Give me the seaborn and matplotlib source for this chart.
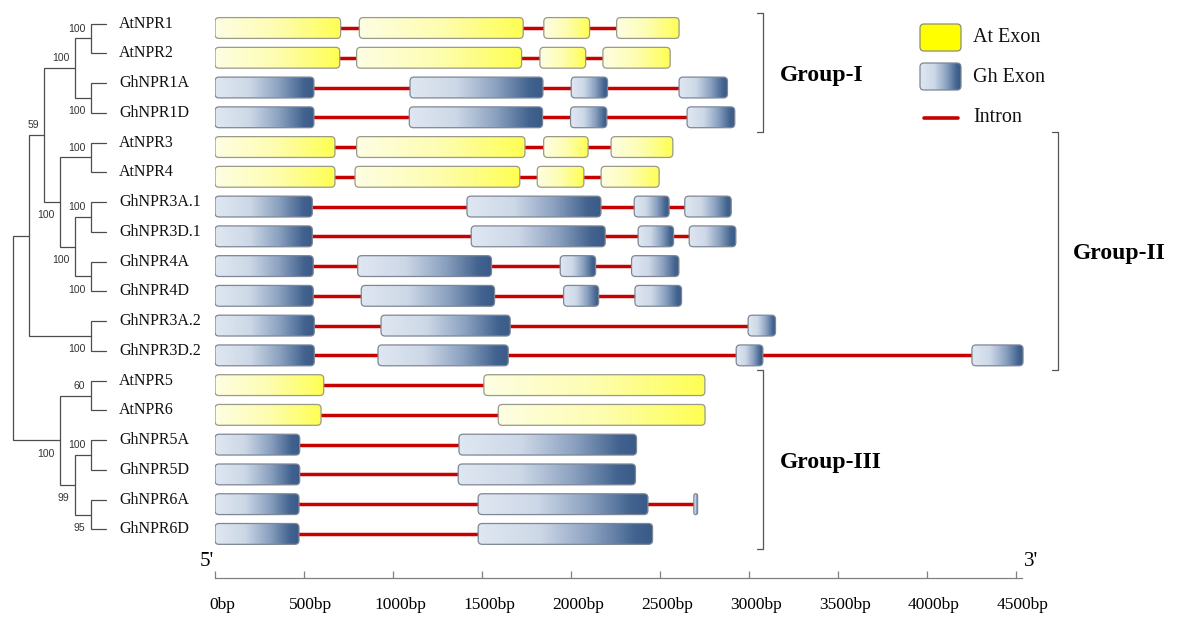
import numpy as np
import pandas as pd
import matplotlib
matplotlib.use("Agg")
import matplotlib.pyplot as plt
import matplotlib.transforms as mtransforms
import seaborn as sns
from matplotlib.patches import FancyBboxPatch
from matplotlib.colors import LinearSegmentedColormap

# Genes, top to bottom
genes = ["AtNPR1", "AtNPR2", "GhNPR1A", "GhNPR1D", "AtNPR3", "AtNPR4",
         "GhNPR3A.1", "GhNPR3D.1", "GhNPR4A", "GhNPR4D", "GhNPR3A.2", "GhNPR3D.2",
         "AtNPR5", "AtNPR6", "GhNPR5A", "GhNPR5D", "GhNPR6A", "GhNPR6D"]

# exon coordinates (bp)
exon_starts = [
    [0, 811, 1848, 2257],
    [0, 796, 1826, 2180],
    [0, 1096, 2002, 2608],
    [0, 1092, 1998, 2653],
    [0, 796, 1847, 2226],
    [0, 787, 1811, 2170],
    [0, 1416, 2356, 2640],
    [0, 1440, 2378, 2665],
    [0, 802, 1940, 2341],
    [0, 822, 1959, 2360],
    [0, 933, 2996],
    [0, 916, 2929, 4254],
    [0, 1511],
    [0, 1592],
    [0, 1371],
    [0, 1367],
    [0, 1479, 2691],
    [0, 1479],
]
exon_ends = [
    [706, 1732, 2105, 2608],
    [701, 1723, 2083, 2558],
    [556, 1843, 2206, 2880],
    [556, 1841, 2202, 2921],
    [674, 1742, 2097, 2573],
    [674, 1713, 2073, 2496],
    [547, 2169, 2552, 2901],
    [547, 2193, 2577, 2927],
    [552, 1554, 2139, 2607],
    [552, 1571, 2156, 2622],
    [558, 1659, 3150],
    [558, 1648, 3079, 4541],
    [611, 2753],
    [596, 2754],
    [476, 2369],
    [476, 2363],
    [472, 2433, 2712],
    [472, 2459],
]

tick_values = [0, 500, 1000, 1500, 2000, 2500, 3000, 3500, 4000, 4500]
tick_labels = ["0bp", "500bp", "1000bp", "1500bp", "2000bp", "2500bp",
               "3000bp", "3500bp", "4000bp", "4500bp"]

# NJ tree: (left, right, bootstrap)
tree = (
    (
        (
            (("AtNPR1", "AtNPR2", 100), ("GhNPR1A", "GhNPR1D", 100), 100),
            (("AtNPR3", "AtNPR4", 100),
             (("GhNPR3A.1", "GhNPR3D.1", 100), ("GhNPR4A", "GhNPR4D", 100), 100),
             100),
            59),
        ("GhNPR3A.2", "GhNPR3D.2", 100),
        None),
    (("AtNPR5", "AtNPR6", 60),
     (("GhNPR5A", "GhNPR5D", 100), ("GhNPR6A", "GhNPR6D", 95), 99),
     100),
    None)

groups = ["Group-I", "Group-II", "Group-III"]
group_first = ["AtNPR1", "AtNPR3", "AtNPR5"]
group_last = ["GhNPR1D", "GhNPR3D.2", "GhNPR6D"]

# styling
sns.set_style("white")
plt.rcParams["font.family"] = ["Liberation Serif", "DejaVu Serif"]
plt.rcParams["text.color"] = "black"
plt.rcParams["xtick.color"] = "black"

INTRON = "#c80000"
TREE_C = "#4d4d4d"
at_cmap = LinearSegmentedColormap.from_list("at", ["#fefee4", "#fdfdb0", "#ffff52"])
gh_cmap = LinearSegmentedColormap.from_list(
    "gh", [(0, "#dfe7f1"), (0.35, "#cdd8e7"), (0.65, "#8ba1c0"), (0.9, "#42638f"), (1, "#3a5a87")])
grad = np.linspace(0, 1, 256).reshape(1, -1)

# layout (pixels)
W, H = 1177, 617
X0 = 215
PX_PER_BP = 0.17794
ROW0 = 28
ROW_STEP = 29.76
AXIS_Y = 578
X_MAX = 4560

fig = plt.figure(figsize=(W / 100, H / 100), dpi=100)
ax = fig.add_axes([X0 / W, (H - AXIS_Y) / H, X_MAX * PX_PER_BP / W, AXIS_Y / H])
tree_ax = fig.add_axes([0, (H - AXIS_Y) / H, X0 / W, AXIS_Y / H], sharey=ax)
overlay = fig.add_axes([0, 0, 1, 1])
overlay.set_xlim(0, W)
overlay.set_ylim(H, 0)
overlay.axis("off")

# Introns
rows = []
for i, (g, s, e) in enumerate(zip(genes, exon_starts, exon_ends)):
    for k in range(len(s) - 1):
        seg = f"{g}-{k}"
        rows.append((seg, e[k], i))
        rows.append((seg, s[k + 1], i))
introns = pd.DataFrame(rows, columns=["seg", "bp", "row"])
sns.lineplot(data=introns, x="bp", y="row", units="seg", estimator=None, sort=False,
             color=INTRON, linewidth=2.5, ax=ax, legend=False, zorder=2)

# Exons
BAR_H = 0.70
asp = (1 / ROW_STEP) * PX_PER_BP
r_bp = 4 / PX_PER_BP
for i, (g, s, e) in enumerate(zip(genes, exon_starts, exon_ends)):
    at = g.startswith("At")
    cmap = at_cmap if at else gh_cmap
    edge = "#9a9a86" if at else "#7d8796"
    for a, b in zip(s, e):
        r = min(r_bp, (b - a) / 2, BAR_H / asp / 2)
        box = FancyBboxPatch((a, i - BAR_H / 2), b - a, BAR_H,
                             boxstyle=f"round,pad=0,rounding_size={r}",
                             mutation_aspect=asp, fc="none", ec=edge, lw=0.9, zorder=4)
        ax.add_patch(box)
        im = ax.imshow(grad, cmap=cmap, extent=(a, b, i + BAR_H / 2, i - BAR_H / 2),
                       aspect="auto", interpolation="bilinear", zorder=3)
        im.set_clip_path(box)

ax.set_xlim(0, X_MAX)
ax.set_ylim((AXIS_Y - ROW0) / ROW_STEP, -ROW0 / ROW_STEP)
ax.set_xlabel("")
ax.set_ylabel("")
ax.set_yticks([])
for side in ["left", "top", "right"]:
    ax.spines[side].set_visible(False)
ax.spines["bottom"].set_bounds(0, 4535)
ax.spines["bottom"].set_color("#808080")
ax.spines["bottom"].set_linewidth(0.9)
ax.set_xticks(tick_values)
ax.set_xticklabels(tick_labels, fontsize=12.5, color="black")
ax.tick_params(axis="x", bottom=True, direction="in", length=4.7, width=0.9,
               color="#808080", labelcolor="black", pad=14)
shift = mtransforms.ScaledTranslation(0.07, 0, fig.dpi_scale_trans)
for lab in ax.get_xticklabels():
    lab.set_transform(lab.get_transform() + shift)
ax.patch.set_alpha(0)

# Tree
TIP = 6
TREE_SHIFT = -0.15


def place(node):
    if isinstance(node, str):
        y = genes.index(node) + TREE_SHIFT
        tree_ax.text(TIP + 0.84, y, node, ha="left", va="center", fontsize=11.5, color="#111111")
        return TIP, y
    left, right, support = node
    lx, ly = place(left)
    rx, ry = place(right)
    x = min(lx, rx) - 1
    tree_ax.plot([lx, x, x, rx], [ly, ly, ry, ry], color=TREE_C, lw=0.9, solid_joinstyle="miter")
    for child, cx, cy, dy in ((left, lx, ly, -0.33), (right, rx, ry, 0.45)):
        if not isinstance(child, str) and child[2] is not None:
            tree_ax.text(cx - 0.35, cy + dy, str(child[2]), ha="right", va="center",
                         fontsize=7.5, color="#333333", family=["Liberation Sans", "DejaVu Sans"])
    return x, (ly + ry) / 2


root_x, root_y = place(tree)
tree_ax.set_xlim(-0.861, 13.06)
tree_ax.axis("off")

# Group brackets
blend = mtransforms.blended_transform_factory(overlay.transData, ax.transData)
bracket_x = [763, 1058, 763]
label_x = [780, 1073, 780]
for name, first, last, bx, lx in zip(groups, group_first, group_last, bracket_x, label_x):
    y0 = genes.index(first) - 0.52
    y1 = genes.index(last) + 0.5
    ax.plot([bx - 6, bx, bx, bx - 6], [y0, y0, y1, y1], color="#555555", lw=0.9,
            transform=blend, clip_on=False)
    ax.text(lx, (y0 + y1) / 2 + 0.1, name, transform=blend, ha="left", va="center",
            fontsize=17, fontweight="bold", color="black", clip_on=False)

# Legend
at_box = FancyBboxPatch((920, 24), 41, 27, boxstyle="round,pad=0,rounding_size=4",
                        fc="#ffff00", ec="#8c8c70", lw=0.9)
overlay.add_patch(at_box)
gh_box = FancyBboxPatch((920, 63), 41, 27, boxstyle="round,pad=0,rounding_size=4",
                        fc="none", ec="#7d8796", lw=0.9, zorder=4)
overlay.add_patch(gh_box)
gim = overlay.imshow(grad, cmap=gh_cmap, extent=(920, 961, 90, 63), aspect="auto",
                     interpolation="bilinear", zorder=3)
gim.set_clip_path(gh_box)
overlay.plot([924, 958], [118, 118], color=INTRON, lw=2.6)
for txt, ty in (("At Exon", 38), ("Gh Exon", 77), ("Intron", 118)):
    overlay.text(973, ty, txt, ha="left", va="center", fontsize=14.5, color="#111111")

overlay.text(207, 562, "5'", ha="center", va="center", fontsize=15, color="black")
overlay.text(1031, 562, "3'", ha="center", va="center", fontsize=15, color="black")
overlay.set_xlim(0, W)
overlay.set_ylim(H, 0)

fig.savefig("out.png", dpi=100)
